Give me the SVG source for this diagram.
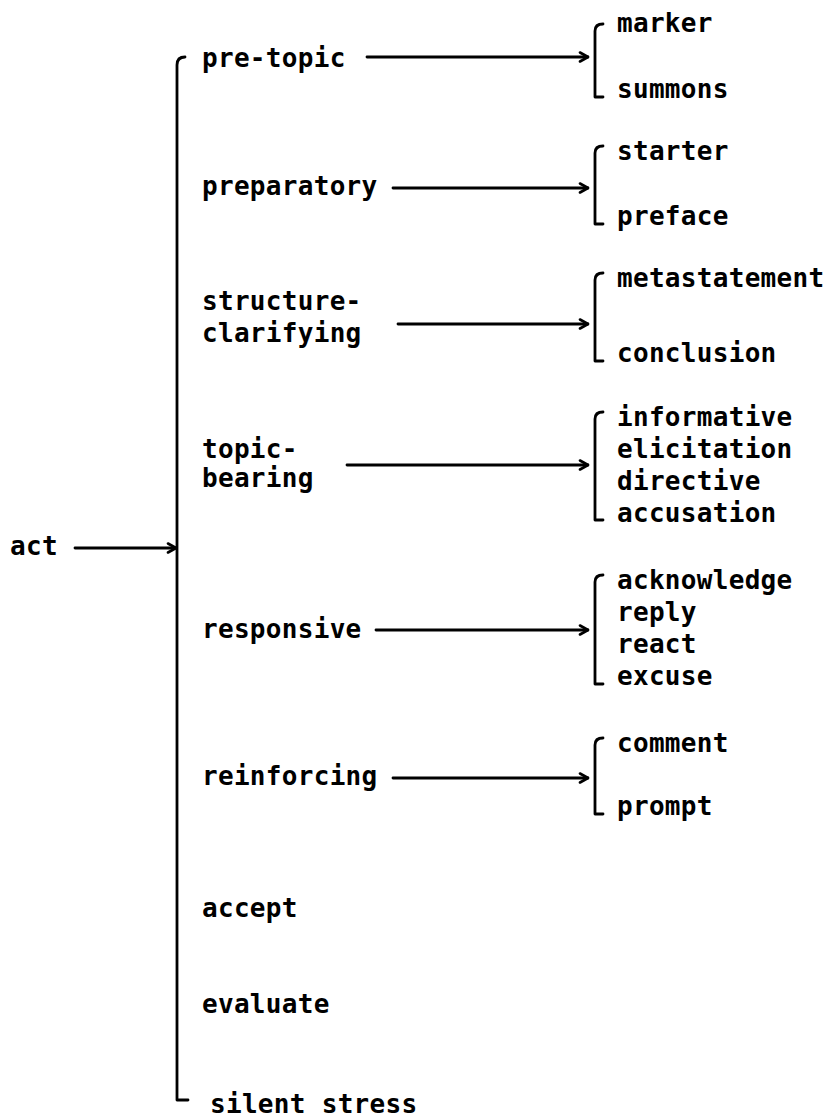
<svg xmlns="http://www.w3.org/2000/svg" width="831" height="1119" viewBox="0 0 831 1119">
  <style>
    text { font-family: "DejaVu Sans Mono", "Liberation Mono", monospace; font-size: 26px; font-weight: bold; fill: #000; letter-spacing: 0.3px; }
    .ln { fill: none; stroke: #000; stroke-width: 2.8; stroke-linecap: round; stroke-linejoin: round; }
    .arr { fill: none; stroke: #000; stroke-width: 2.8; stroke-linecap: round; marker-end: url(#head); }
  </style>
  <defs>
    <marker id="head" viewBox="0 0 12 12" refX="11" refY="6" markerWidth="12" markerHeight="12" markerUnits="userSpaceOnUse" orient="auto">
      <path d="M3,1.5 L11,6 L3,10.5" fill="none" stroke="#000" stroke-width="2.6" stroke-linecap="round" stroke-linejoin="round"/>
    </marker>
  </defs>
  <rect width="831" height="1119" fill="#fff"/>

  <!-- root -->
  <g id="act"><text x="10" y="555">act</text></g>

  <!-- main bracket collecting the act classes -->
  <g id="act-bracket">
    <path class="ln" d="M185,57 Q177,57 177,65 L177,1100 L188,1100"/>
  </g>

  <g id="pre-topic">
    <text x="202" y="67">pre-topic</text>
    <path class="ln" d="M603,24 Q595,24 595,31 L595,97 L603,97"/>
    <text x="617" y="32">marker</text>
    <text x="617" y="98">summons</text>
  </g>

  <g id="preparatory">
    <text x="202" y="195">preparatory</text>
    <path class="ln" d="M603,146 Q595,146 595,153 L595,224 L603,224"/>
    <text x="617" y="160">starter</text>
    <text x="617" y="225">preface</text>
  </g>

  <g id="structure-clarifying">
    <text x="202" y="310">structure-</text>
    <text x="202" y="342">clarifying</text>
    <path class="ln" d="M603,273 Q595,273 595,280 L595,361 L603,361"/>
    <text x="617" y="287">metastatement</text>
    <text x="617" y="362">conclusion</text>
  </g>

  <g id="topic-bearing">
    <text x="202" y="458">topic-</text>
    <text x="202" y="487">bearing</text>
    <path class="ln" d="M603,412 Q595,412 595,419 L595,520 L603,520"/>
    <text x="617" y="426">informative</text>
    <text x="617" y="458">elicitation</text>
    <text x="617" y="490">directive</text>
    <text x="617" y="522">accusation</text>
  </g>

  <g id="responsive">
    <text x="202" y="638">responsive</text>
    <path class="ln" d="M603,575 Q595,575 595,582 L595,684 L603,684"/>
    <text x="617" y="589">acknowledge</text>
    <text x="617" y="621">reply</text>
    <text x="617" y="653">react</text>
    <text x="617" y="685">excuse</text>
  </g>

  <g id="reinforcing">
    <text x="202" y="785">reinforcing</text>
    <path class="ln" d="M603,738 Q595,738 595,745 L595,814 L603,814"/>
    <text x="617" y="752">comment</text>
    <text x="617" y="815">prompt</text>
  </g>

  <g id="accept"><text x="202" y="917">accept</text></g>
  <g id="evaluate"><text x="202" y="1013">evaluate</text></g>
  <g id="silent-stress"><text x="210" y="1113">silent stress</text></g>

  <!-- connectors -->
  <g id="connectors">
    <line class="arr" x1="75" y1="548" x2="176" y2="548"/>
    <line class="arr" x1="367" y1="57" x2="588" y2="57"/>
    <line class="arr" x1="393" y1="188" x2="588" y2="188"/>
    <line class="arr" x1="398" y1="324" x2="588" y2="324"/>
    <line class="arr" x1="347" y1="465" x2="588" y2="465"/>
    <line class="arr" x1="376" y1="630" x2="588" y2="630"/>
    <line class="arr" x1="393" y1="778" x2="588" y2="778"/>
  </g>
</svg>
